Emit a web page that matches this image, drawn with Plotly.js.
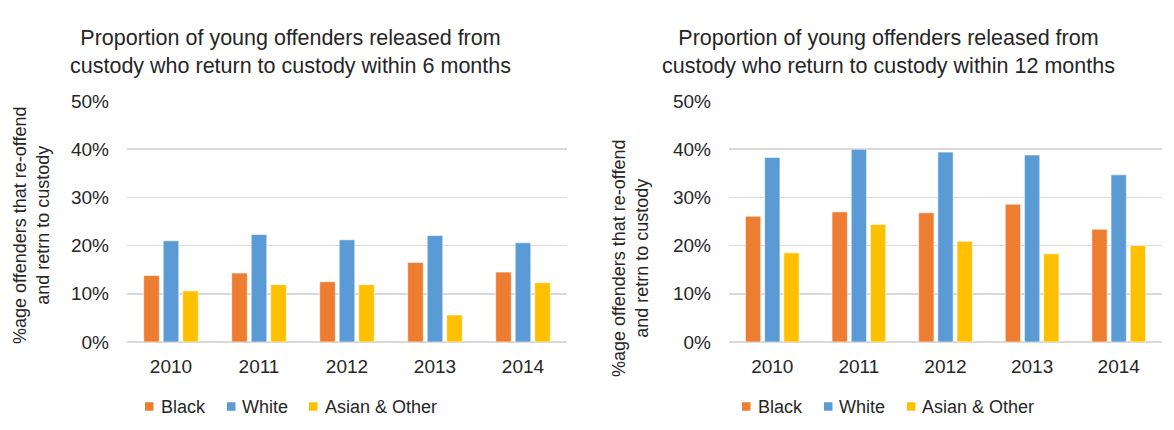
<!DOCTYPE html>
<html>
<head>
<meta charset="utf-8">
<script src="https://cdn.plot.ly/plotly-3.0.1.min.js"></script>
<style>html,body{margin:0;padding:0;background:#fff;}#chart{width:1174px;height:430px;}</style>
</head>
<body>
<div id="chart"></div>
<script>
const years = ["2010", "2011", "2012", "2013", "2014"];
const seriesNames = ["Black", "White", "Asian & Other"];
const six_black = [0.138, 0.143, 0.125, 0.165, 0.145];
const six_white = [0.210, 0.223, 0.212, 0.221, 0.206];
const six_asian = [0.106, 0.119, 0.119, 0.056, 0.123];
const twelve_black = [0.261, 0.270, 0.268, 0.286, 0.234];
const twelve_white = [0.383, 0.400, 0.394, 0.388, 0.347];
const twelve_asian = [0.185, 0.244, 0.209, 0.183, 0.200];
const title6 = "Proportion of young offenders released from<br>custody who return to custody within 6 months";
const title12 = "Proportion of young offenders released from<br>custody who return to custody within 12 months";
const yTitle = "%age offenders that re-offend<br>and retrn to custody";
const yTicks = [0, 0.1, 0.2, 0.3, 0.4, 0.5];
const yTickText = ["0%", "10%", "20%", "30%", "40%", "50%"];

const colors = ["#ED7D31", "#5B9BD5", "#FFC000"];
const FONT = "Liberation Sans, Arial, sans-serif";
const TXT = "#262626";

function bar(y, i, xa, ya) {
  return {
    type: "bar", x: years, y: y, name: seriesNames[i],
    xaxis: xa, yaxis: ya, showlegend: false,
    marker: {color: colors[i], line: {color: "rgba(255,255,255,0.6)", width: 1}},
    hoverinfo: "skip"
  };
}

const data = [
  bar(six_black, 0, "x", "y"),
  bar(six_white, 1, "x", "y"),
  bar(six_asian, 2, "x", "y"),
  bar(twelve_black, 0, "x2", "y2"),
  bar(twelve_white, 1, "x2", "y2"),
  bar(twelve_asian, 2, "x2", "y2")
];

const W = 1174, H = 430;
const yDom = [(H - 342) / H, (H - 101) / H];
const yaxisBase = {
  range: [0, 0.5], tickvals: yTicks, ticktext: yTickText,
  showgrid: true, gridcolor: "#D9D9D9", gridwidth: 1.5,
  zeroline: true, zerolinecolor: "#D9D9D9", zerolinewidth: 1.5,
  showline: false, ticks: "", ticklabelstandoff: 17,
  tickfont: {family: FONT, size: 19, color: TXT}, domain: yDom, fixedrange: true
};
const xaxisBase = {
  showgrid: false, showline: false, ticks: "", type: "category",
  tickfont: {family: FONT, size: 19, color: TXT}, fixedrange: true, ticklabelstandoff: 11
};

// manual legend (left x positions of swatches / labels, in px)
const legendLeft = {sw: [145, 227, 309], tx: [159, 240, 323]};
const legendRight = {sw: [742, 824, 907], tx: [756, 837, 920]};
const legY = 406.5, sq = 8.5;
const shapes = [], annotations = [];
[legendLeft, legendRight].forEach(L => {
  seriesNames.forEach((nm, i) => {
    shapes.push({type: "rect", xref: "paper", yref: "paper",
      x0: L.sw[i] / W, x1: (L.sw[i] + sq) / W,
      y0: 1 - (legY + sq / 2) / H, y1: 1 - (legY - sq / 2) / H,
      fillcolor: colors[i], line: {width: 0}});
    annotations.push({text: nm, xref: "paper", yref: "paper",
      x: L.tx[i] / W, y: 1 - legY / H, xanchor: "left", yanchor: "middle",
      showarrow: false, font: {family: FONT, size: 18, color: TXT}});
  });
});

annotations.push(
  {text: title6, xref: "paper", yref: "paper", x: 290 / W, y: 1 - 52 / H,
   xanchor: "center", yanchor: "middle", showarrow: false,
   font: {family: FONT, size: 21.5, color: TXT}},
  {text: title12, xref: "paper", yref: "paper", x: 888 / W, y: 1 - 52 / H,
   xanchor: "center", yanchor: "middle", showarrow: false,
   font: {family: FONT, size: 21.5, color: TXT}},
  {text: yTitle, xref: "paper", yref: "paper", x: 31 / W, y: 1 - 225 / H,
   xanchor: "center", yanchor: "middle", showarrow: false, textangle: -90,
   font: {family: FONT, size: 18, color: TXT}},
  {text: yTitle, xref: "paper", yref: "paper", x: 630 / W, y: 1 - 258 / H,
   xanchor: "center", yanchor: "middle", showarrow: false, textangle: -90,
   font: {family: FONT, size: 18, color: TXT}}
);

const layout = {
  width: W, height: H,
  margin: {l: 0, r: 0, t: 0, b: 0},
  paper_bgcolor: "#fff", plot_bgcolor: "#fff",
  showlegend: false, barmode: "group", bargap: 0.335, bargroupgap: 0.2,
  font: {family: FONT, color: TXT},
  xaxis: Object.assign({}, xaxisBase, {domain: [127 / W, 567 / W], anchor: "y"}),
  yaxis: Object.assign({}, yaxisBase, {anchor: "x"}),
  xaxis2: Object.assign({}, xaxisBase, {domain: [729 / W, 1162 / W], anchor: "y2"}),
  yaxis2: Object.assign({}, yaxisBase, {anchor: "x2"}),
  shapes: shapes,
  annotations: annotations
};

Plotly.newPlot("chart", data, layout, {displayModeBar: false, staticPlot: true});
</script>
</body>
</html>
